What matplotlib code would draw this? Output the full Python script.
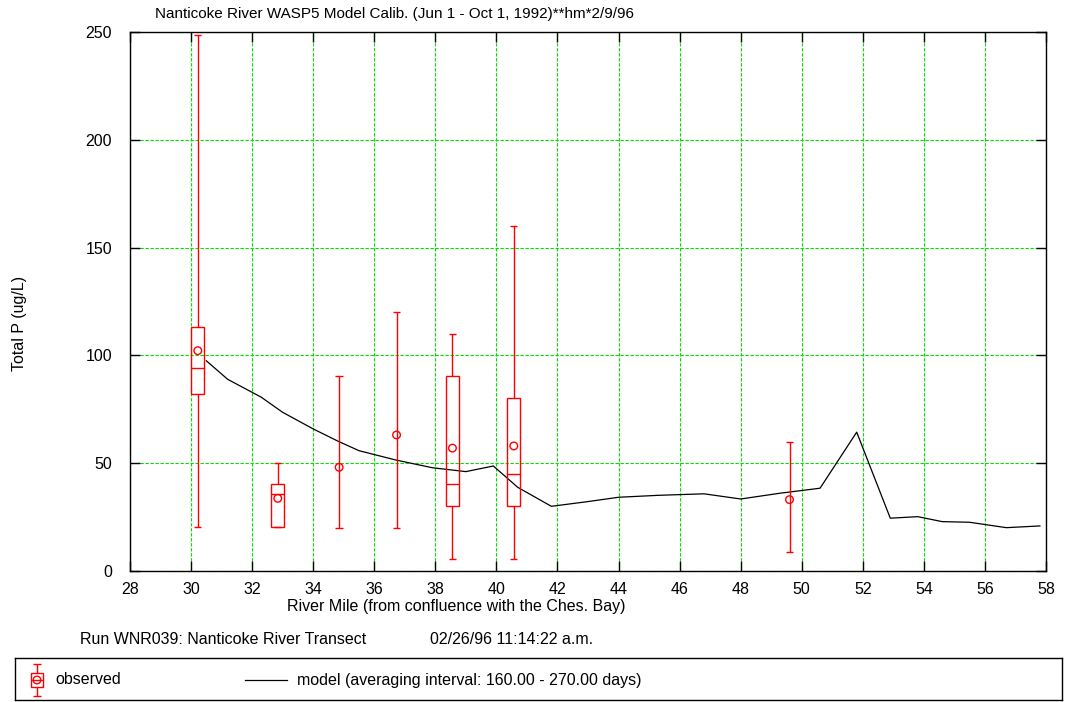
import matplotlib.pyplot as plt
import numpy as np

plt.rcParams['font.family'] = ['Liberation Sans', 'DejaVu Sans']

# observed data (box = quartiles, whiskers = min/max, circle = mean)
obs_x = [30.22, 32.84, 34.85, 36.73, 38.56, 40.57, 49.6]
obs_min = [20.3, 20.3, 20.0, 20.0, 5.6, 5.6, 9.0]
obs_q1 = [82.2, 20.3, np.nan, np.nan, 30.3, 30.3, np.nan]
obs_med = [94.0, 35.7, np.nan, np.nan, 40.5, 45.1, np.nan]
obs_q3 = [113.2, 40.5, np.nan, np.nan, 90.3, 80.1, np.nan]
obs_max = [248.6, 50.1, 90.3, 120.3, 110.0, 160.0, 60.0]
obs_mean = [102.2, 33.7, 48.1, 63.1, 57.0, 58.0, 33.1]

# model line
model_x = [30.5, 31.2, 32.3, 33.0, 34.0, 34.8, 35.5, 36.7, 37.9, 39.0, 39.9,
           40.7, 41.8, 43.0, 44.0, 45.3, 46.8, 48.0, 49.3, 50.6, 51.8, 52.9,
           53.8, 54.6, 55.5, 56.7, 57.8]
model_y = [97.5, 88.9, 80.6, 73.6, 65.9, 60.3, 55.8, 51.5, 47.9, 46.1, 48.7,
           38.8, 30.0, 32.2, 34.2, 35.1, 35.8, 33.4, 36.1, 38.4, 64.4, 24.5,
           25.2, 22.9, 22.6, 20.1, 20.9]

RED = '#ff0000'
GREEN = '#00e000'
box_w = 0.43
cap_w = 0.24
FS = 11.5

fig = plt.figure(figsize=(10.74, 7.02), dpi=100)
ax = fig.add_axes([130 / 1074, 1 - 571 / 702, 916 / 1074, 539 / 702])

ax.set_xlim(28, 58)
ax.set_ylim(0, 250)
ax.set_xticks(np.arange(28, 59, 2))
ax.set_yticks(np.arange(0, 251, 50))
ax.grid(True, color=GREEN, linestyle=(0, (3, 1.5)), linewidth=0.8, zorder=0)
ax.tick_params(direction='in', length=7, width=1, top=True, right=True,
               labelsize=FS)
ax.tick_params(axis='x', pad=8)
ax.tick_params(axis='y', pad=13)
for s in ax.spines.values():
    s.set_linewidth(1.0)

# model
ax.plot(model_x, model_y, color='black', linewidth=0.9, zorder=3)

# observed
for i, x in enumerate(obs_x):
    lo, q1, med, q3, hi = obs_min[i], obs_q1[i], obs_med[i], obs_q3[i], obs_max[i]
    if np.isnan(q1):
        ax.vlines(x, lo, hi, color=RED, linewidth=1.0, zorder=4)
    else:
        ax.vlines(x, lo, q1, color=RED, linewidth=1.0, zorder=4)
        ax.vlines(x, q3, hi, color=RED, linewidth=1.0, zorder=4)
        ax.bar(x, q3 - q1, bottom=q1, width=box_w, fill=False,
               edgecolor=RED, linewidth=1.0, zorder=4)
        ax.hlines(med, x - box_w / 2, x + box_w / 2, color=RED, linewidth=1.0, zorder=4)
    ax.hlines([lo, hi], x - cap_w / 2, x + cap_w / 2, color=RED, linewidth=1.0, zorder=4)
ax.scatter(obs_x, obs_mean, s=30, facecolors='none', edgecolors=RED,
           linewidths=1.0, zorder=5)

fig.text(155 / 1074, 1 - 14 / 702,
         'Nanticoke River WASP5 Model Calib. (Jun 1 - Oct 1, 1992)**hm*2/9/96',
         fontsize=11, va='center', ha='left')
fig.text(20 / 1074, 1 - 323 / 702, 'Total P (ug/L)', rotation=90,
         fontsize=FS, va='center', ha='center')
fig.text(456 / 1074, 1 - 607 / 702,
         'River Mile (from confluence with the Ches. Bay)',
         fontsize=FS, va='center', ha='center')
fig.text(80 / 1074, 1 - 639 / 702, 'Run WNR039: Nanticoke River Transect',
         fontsize=FS, va='center', ha='left')
fig.text(430 / 1074, 1 - 639 / 702, '02/26/96 11:14:22 a.m.',
         fontsize=FS, va='center', ha='left')

# legend box
lg = fig.add_axes([15 / 1074, 1 - 700 / 702, 1047 / 1074, 42 / 702])
lg.set_xlim(15, 1062)
lg.set_ylim(42, 0)
lg.set_xticks([])
lg.set_yticks([])
for s in lg.spines.values():
    s.set_linewidth(1.0)
sx = 37
lg.vlines(sx, 6, 15, color=RED, linewidth=1.0)
lg.vlines(sx, 29, 38, color=RED, linewidth=1.0)
lg.hlines([6, 38], sx - 4, sx + 4, color=RED, linewidth=1.0)
lg.bar(sx, 14, bottom=15, width=12, fill=False, edgecolor=RED, linewidth=1.0)
lg.hlines(22, sx - 6, sx + 6, color=RED, linewidth=1.0)
lg.scatter([sx], [22], s=30, facecolors='none', edgecolors=RED, linewidths=1.0)
lg.text(55, 22, 'observed', fontsize=FS, va='center', ha='left')
lg.plot([245, 287], [22, 22], color='black', linewidth=0.9)
lg.text(297, 22, 'model (averaging interval: 160.00 - 270.00 days)',
        fontsize=FS, va='center', ha='left')

fig.savefig('out.png', dpi=100)
